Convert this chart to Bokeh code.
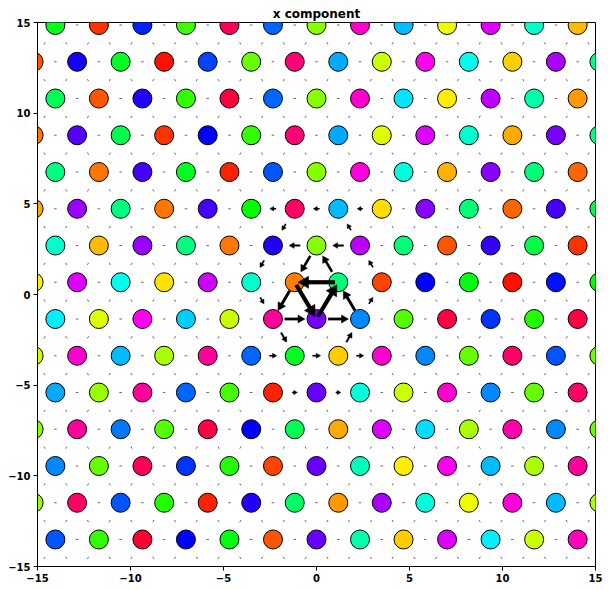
import math
import colorsys
from bokeh.plotting import figure
from bokeh.models import Range1d, FixedTicker, ColumnDataSource
from bokeh.embed import file_html
from bokeh.resources import INLINE

# ---------------- data ----------------
LATTICE_A = 2.34          # nearest-neighbour distance of the triangular lattice
ROW_IDS = list(range(8, -8, -1))

# site phase colours (hue in degrees), one list per lattice row, left -> right
HUE_J8 = [125, 12, 232, 105, 340, 216, 88, 312, 196, 64, 292, 168, 44]
HUE_J7 = [20, 245, 128, 4, 224, 95, 332, 200, 72, 304, 176, 49, 280, 152]
HUE_J6 = [140, 20, 248, 108, 346, 216, 88, 312, 186, 56, 284, 160, 36]
HUE_J5 = [28, 260, 138, 12, 240, 108, 332, 200, 68, 292, 168, 40, 268, 148]
HUE_J4 = [150, 28, 256, 128, 8, 220, 88, 308, 172, 42, 272, 148, 24]
HUE_J3 = [40, 276, 150, 28, 256, 120, 336, 196, 52, 272, 148, 24, 256, 136]
HUE_J2 = [168, 44, 276, 150, 28, 248, 88, 284, 148, 20, 252, 136, 12]
HUE_J1 = [56, 292, 176, 53, 288, 168, 30, 148, 16, 240, 124, 4, 236, 120]
HUE_J0 = [184, 68, 304, 192, 72, 324, 268, 208, 100, 344, 228, 112, 344]
HUE_JM1 = [72, 312, 196, 80, 324, 216, 128, 48, 312, 208, 96, 336, 220, 96]
HUE_JM2 = [200, 84, 324, 216, 104, 8, 264, 172, 72, 312, 208, 96, 336]
HUE_JM3 = [88, 324, 212, 100, 344, 240, 140, 40, 292, 188, 80, 320, 208, 96]
HUE_JM4 = [208, 96, 340, 228, 112, 16, 264, 164, 56, 304, 196, 80, 324]
HUE_JM5 = [84, 336, 220, 112, 8, 248, 144, 36, 280, 172, 64, 308, 196, 80]
HUE_JM6 = [220, 108, 348, 240, 124, 20, 264, 160, 48, 292, 184, 72, 316]
HUE_JM7 = [96, 344, 228, 120, 16, 252, 148, 36, 284, 168, 56, 300, 188, 72]

HUE_ROWS = {8: HUE_J8, 7: HUE_J7, 6: HUE_J6, 5: HUE_J5, 4: HUE_J4, 3: HUE_J3,
            2: HUE_J2, 1: HUE_J1, 0: HUE_J0, -1: HUE_JM1, -2: HUE_JM2,
            -3: HUE_JM3, -4: HUE_JM4, -5: HUE_JM5, -6: HUE_JM6, -7: HUE_JM7}

# bond currents (site = (column index c, row j)); magnitude relative to largest
ARROW_FROM = [(1, 1), (-1, 1), (0, 0),
              (-1, 1), (-2, 0), (0, 0), (2, 0), (1, 1), (0, 2),
              (0, 2), (2, 2), (-2, 0), (1, -1), (-3, 1), (2, 0),
              (-2, 2), (3, 1), (-1, -1), (-3, -1), (1, -1),
              (-1, 3), (1, 3), (3, 3), (-2, -2), (0, -2),
              (-1, 3), (2, 2)]
ARROW_TO = [(-1, 1), (0, 0), (1, 1),
            (-2, 0), (0, 0), (2, 0), (1, 1), (0, 2), (-1, 1),
            (-2, 2), (0, 2), (-1, -1), (2, 0), (-2, 0), (3, 1),
            (-3, 1), (2, 2), (1, -1), (-1, -1), (3, -1),
            (-3, 3), (-1, 3), (1, 3), (0, -2), (2, -2),
            (-2, 2), (1, 3)]
ARROW_MAG = [1.0, 1.0, 1.0,
             0.62, 0.55, 0.55, 0.62, 0.5, 0.5,
             0.3, 0.3, 0.3, 0.3, 0.2, 0.2,
             0.22, 0.22, 0.22, 0.2, 0.2,
             0.17, 0.17, 0.15, 0.14, 0.14,
             0.2, 0.2]

TICKS = [-15, -10, -5, 0, 5, 10, 15]
TICK_LABELS = ["\u221215", "\u221210", "\u22125", "0", "5", "10", "15"]

# ---------------- geometry helpers ----------------
FW, FH = 558, 544
SX, SY = FW / 30.0, FH / 30.0
R = LATTICE_A / math.sqrt(3)


def site_xy(c, j):
    return c * LATTICE_A / 2.0, -R + j * 1.5 * R


def hue_hex(h):
    r, g, b = colorsys.hsv_to_rgb((h % 360) / 360.0, 1.0, 1.0)
    return "#%02x%02x%02x" % (int(round(r * 255)), int(round(g * 255)), int(round(b * 255)))


site_set = set()
sx, sy, sc = [], [], []
for j in ROW_IDS:
    cs = list(range(-12, 13, 2)) if j % 2 == 0 else list(range(-13, 14, 2))
    for c, h in zip(cs, HUE_ROWS[j]):
        x, y = site_xy(c, j)
        site_set.add((c, j))
        sx.append(x)
        sy.append(y)
        sc.append(hue_hex(h))

arrow_map = {}
for f, t, m in zip(ARROW_FROM, ARROW_TO, ARROW_MAG):
    arrow_map[frozenset([f, t])] = (f, t, m)

bonds = []
for (c, j) in site_set:
    for (dc, dj) in [(2, 0), (1, 1), (-1, 1)]:
        n = (c + dc, j + dj)
        if n in site_set:
            bonds.append(((c, j), n))

sh = dict(x0=[], y0=[], x1=[], y1=[], w=[])
hd = dict(x=[], y=[], size=[], angle=[])
sp = dict(x0=[], y0=[], x1=[], y1=[])

for a, b in bonds:
    key = frozenset([a, b])
    if key in arrow_map:
        f, t, m = arrow_map[key]
    else:
        f, t, m = a, b, 0.0
    x1, y1 = site_xy(*f)
    x2, y2 = site_xy(*t)
    mx, my = (x1 + x2) / 2, (y1 + y2) / 2
    if not (-15.6 < mx < 15.6 and -15.6 < my < 15.6):
        continue
    dxp, dyp = (x2 - x1) * SX, (y2 - y1) * SY
    nrm = math.hypot(dxp, dyp)
    ux, uy = dxp / nrm, dyp / nrm
    if m <= 0:
        half = 1.25
        sp["x0"].append(mx - half * ux / SX)
        sp["y0"].append(my - half * uy / SY)
        sp["x1"].append(mx + half * ux / SX)
        sp["y1"].append(my + half * uy / SY)
        continue
    L = m * 37.0
    w = 1.0 + 3.2 * m
    size = 2.9 * w
    hlen = 0.866 * size
    tail = -L / 2
    tip = L / 2
    shaft_end = tip - 0.7 * hlen
    sh["x0"].append(mx + tail * ux / SX)
    sh["y0"].append(my + tail * uy / SY)
    sh["x1"].append(mx + shaft_end * ux / SX)
    sh["y1"].append(my + shaft_end * uy / SY)
    sh["w"].append(w)
    cpos = tip - 2.0 * hlen / 3.0
    hd["x"].append(mx + cpos * ux / SX)
    hd["y"].append(my + cpos * uy / SY)
    hd["size"].append(size)
    hd["angle"].append(math.atan2(uy, ux) - math.pi / 2)

# ---------------- figure ----------------
p = figure(frame_width=FW, frame_height=FH, output_backend="svg", toolbar_location=None,
           x_range=Range1d(-15, 15), y_range=Range1d(-15, 15),
           min_border_left=37, min_border_right=12, min_border_top=22, min_border_bottom=20,
           title="x component")
p.title.align = "center"
p.title.text_font = "DejaVu Sans"
p.title.text_font_size = "12px"
p.title.text_font_style = "bold"
p.title.text_color = "black"
p.title.standoff = 3
p.grid.visible = False
p.outline_line_color = "black"
p.outline_line_width = 1
p.outline_line_alpha = 1.0

for ax in (p.xaxis[0], p.yaxis[0]):
    ax.ticker = FixedTicker(ticks=TICKS)
    ax.major_label_overrides = {t: lab for t, lab in zip(TICKS, TICK_LABELS)}
    ax.major_label_text_font = "DejaVu Sans"
    ax.major_label_text_font_size = "10px"
    ax.major_label_text_font_style = "bold"
    ax.major_label_text_color = "black"
    ax.major_tick_in = 0
    ax.major_tick_out = 4
    ax.minor_tick_in = 0
    ax.minor_tick_out = 0
    ax.major_label_standoff = 3
    ax.axis_line_color = "black"
    ax.major_tick_line_color = "black"

p.scatter(sx, sy, size=19, marker="circle", fill_color=sc, line_color="black",
          line_width=1)

p.segment(x0="x0", y0="y0", x1="x1", y1="y1", source=ColumnDataSource(sp),
          line_color="#666666", line_width=1)
p.segment(x0="x0", y0="y0", x1="x1", y1="y1", source=ColumnDataSource(sh),
          line_color="black", line_width="w")
p.scatter(x="x", y="y", size="size", angle="angle", marker="triangle",
          source=ColumnDataSource(hd), fill_color="black", line_color="black",
          line_width=0.5)

open("out.html", "w").write(file_html(p, INLINE))
